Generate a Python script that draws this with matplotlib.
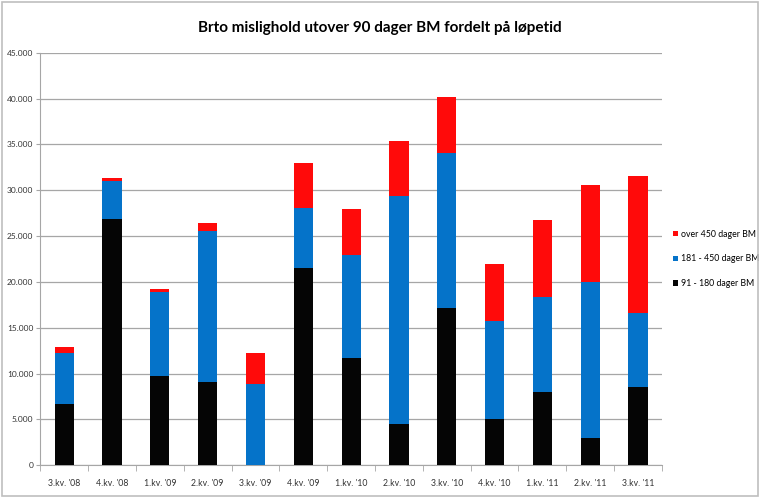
import matplotlib
matplotlib.use("Agg")
import matplotlib.pyplot as plt
from matplotlib.ticker import FuncFormatter, FixedLocator
import numpy as np

categories = ["3.kv. '08", "4.kv. '08", "1.kv. '09", "2.kv. '09", "3.kv. '09", "4.kv. '09",
              "1.kv. '10", "2.kv. '10", "3.kv. '10", "4.kv. '10", "1.kv. '11", "2.kv. '11", "3.kv. '11"]
d91_180 = [6700, 26900, 9700, 9100, 0, 21500, 11700, 4500, 17200, 5000, 8000, 3000, 8500]
d181_450 = [5500, 4100, 9200, 16400, 8900, 6600, 11200, 24900, 16900, 10700, 10300, 17000, 8100]
over450 = [700, 300, 300, 900, 3300, 4900, 5000, 6000, 6100, 6300, 8400, 10600, 14900]
labels = ["91 - 180 dager BM", "181 - 450 dager BM", "over 450 dager BM"]
title = "Brto mislighold utover 90 dager BM fordelt på løpetid"

plt.rcParams['font.family'] = ['Lato', 'DejaVu Sans']
fs_small = 6.3
fs_title = 11

fig = plt.figure(figsize=(7.6, 4.98), dpi=100)
ax = fig.add_axes([0.053, 0.066, 0.818, 0.828])

x = np.arange(len(categories))
w = 0.4
a = np.array(d91_180)
b = np.array(d181_450)
c = np.array(over450)
h1 = ax.bar(x, a, w, color="#050505", label=labels[0], zorder=3)
h2 = ax.bar(x, b, w, bottom=a, color="#0573C9", label=labels[1], zorder=3)
h3 = ax.bar(x, c, w, bottom=a + b, color="#FF0A0A", label=labels[2], zorder=3)

ax.set_xlim(-0.5, len(categories) - 0.5)
ax.set_ylim(0, 45000)
ax.set_yticks(np.arange(0, 45001, 5000))
ax.yaxis.set_major_formatter(FuncFormatter(lambda v, p: "0" if v == 0 else f"{int(v):,}".replace(",", ".")))
ax.grid(axis="y", color="#A6A6A6", linewidth=0.9, zorder=0)
ax.set_xticks(x)
ax.set_xticklabels(categories)
ax.xaxis.set_minor_locator(FixedLocator(np.arange(-0.5, len(categories), 1)))
ax.tick_params(axis="x", which="major", length=0, pad=10, labelsize=fs_small, colors="#333333")
ax.tick_params(axis="x", which="minor", length=4, color="#A6A6A6")
ax.tick_params(axis="y", length=3, color="#A6A6A6", labelsize=6, labelcolor="#333333", pad=2)
for s in ["top", "right"]:
    ax.spines[s].set_visible(False)
ax.spines["left"].set_color("#A6A6A6")
ax.spines["bottom"].set_color("#A6A6A6")

leg = ax.legend(handles=[h3, h2, h1], labels=[labels[2], labels[1], labels[0]],
                loc="center left", bbox_to_anchor=(1.005, 0.5), frameon=False,
                fontsize=fs_small, handlelength=0.6, handleheight=0.6, handletextpad=0.3,
                labelspacing=1.8)

fig.text(0.5, 0.944, title, ha="center", va="center", fontsize=fs_title, fontweight="bold")

fig.patches.append(plt.Rectangle((0.003, 0.005), 0.994, 0.99, transform=fig.transFigure,
                                 fill=False, edgecolor="#BFBFBF", linewidth=1.2))

fig.savefig("out.png", dpi=100)
